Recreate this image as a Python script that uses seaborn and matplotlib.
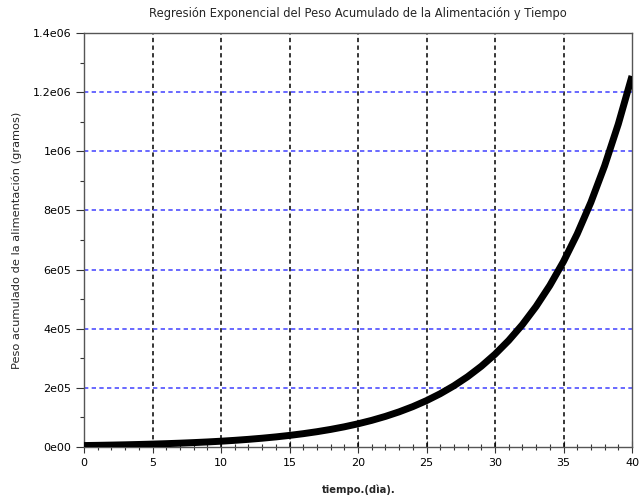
import matplotlib
matplotlib.use("Agg")
import matplotlib.pyplot as plt
from matplotlib.ticker import MultipleLocator
import seaborn as sns
import pandas as pd

# Accumulated feed weight (grams) per day, exponential fit
dias = list(range(0, 41))
peso = [4900, 5629, 6466, 7428, 8533, 9800, 11257, 12931, 14854, 17063,
        19600, 22515, 25864, 29709, 34127, 39200, 45029, 51725, 59417, 68252,
        78400, 90058, 103450, 118835, 136506, 156800, 180116, 206900, 237667, 273010,
        313600, 360232, 413800, 475334, 546019, 627200, 720465, 827600, 950670, 1092038,
        1254400]

x_ticks = [0, 5, 10, 15, 20, 25, 30, 35, 40]
y_ticks = [0, 200000, 400000, 600000, 800000, 1000000, 1200000, 1400000]
y_tick_labels = ["0e00", "2e05", "4e05", "6e05", "8e05", "1e06", "1.2e06", "1.4e06"]

titulo = "Regresión Exponencial del Peso Acumulado de la Alimentación y Tiempo"
etiqueta_x = "tiempo.(dìa)."
etiqueta_y = "Peso acumulado de la alimentación (gramos)"

sns.set_style("white")
plt.rcParams["font.family"] = ["DejaVu Sans"]

df = pd.DataFrame({"dia": dias, "peso": peso})

fig = plt.figure(figsize=(6.39, 4.98), dpi=100)
ax = fig.add_axes([84 / 639, 1 - 447 / 498, (632 - 84) / 639, (447 - 33) / 498])

# grid lines first so the curve sits on top
for xv in x_ticks[1:-1]:
    ax.axvline(xv, color="black", lw=1.1, ls=(0, (2.8, 2.2)), zorder=1)
for yv in y_ticks[1:-1]:
    ax.axhline(yv, color="#4f4fff", lw=1.2, ls=(0, (2.6, 2.0)), zorder=1)

sns.lineplot(data=df, x="dia", y="peso", ax=ax, color="black", lw=5,
             solid_capstyle="butt", zorder=3)

ax.set_xlim(0, 40)
ax.set_ylim(0, 1400000)
ax.set_xticks(x_ticks)
ax.set_xticklabels([str(v) for v in x_ticks])
ax.set_yticks(y_ticks)
ax.set_yticklabels(y_tick_labels)
ax.xaxis.set_minor_locator(MultipleLocator(1))
ax.yaxis.set_minor_locator(MultipleLocator(100000))
ax.set_xlabel("")
ax.set_ylabel("")

ax.tick_params(axis="x", which="major", direction="inout", length=8, width=0.8,
               colors="#333333", labelsize=8, labelcolor="black", pad=4)
ax.tick_params(axis="x", which="minor", direction="inout", length=4, width=0.8,
               colors="#333333")
ax.tick_params(axis="y", which="major", direction="out", length=6, width=0.8,
               colors="#333333", labelsize=8, labelcolor="black", pad=3)
ax.tick_params(axis="y", which="minor", direction="out", length=3, width=0.8,
               colors="#333333")
ax.tick_params(bottom=True, left=True, which="both")

for s in ax.spines.values():
    s.set_color("#555555")
    s.set_linewidth(1.0)

fig.text(358 / 639, 1 - 13 / 498, titulo, fontsize=8.3, ha="center", va="center")
fig.text(359 / 639, 1 - 490 / 498, etiqueta_x, fontsize=7.2, fontweight="bold",
         ha="center", va="center")
fig.text(17 / 639, 1 - 240 / 498, etiqueta_y, fontsize=8.2, rotation=90,
         ha="center", va="center")

fig.savefig("out.png", dpi=100)
